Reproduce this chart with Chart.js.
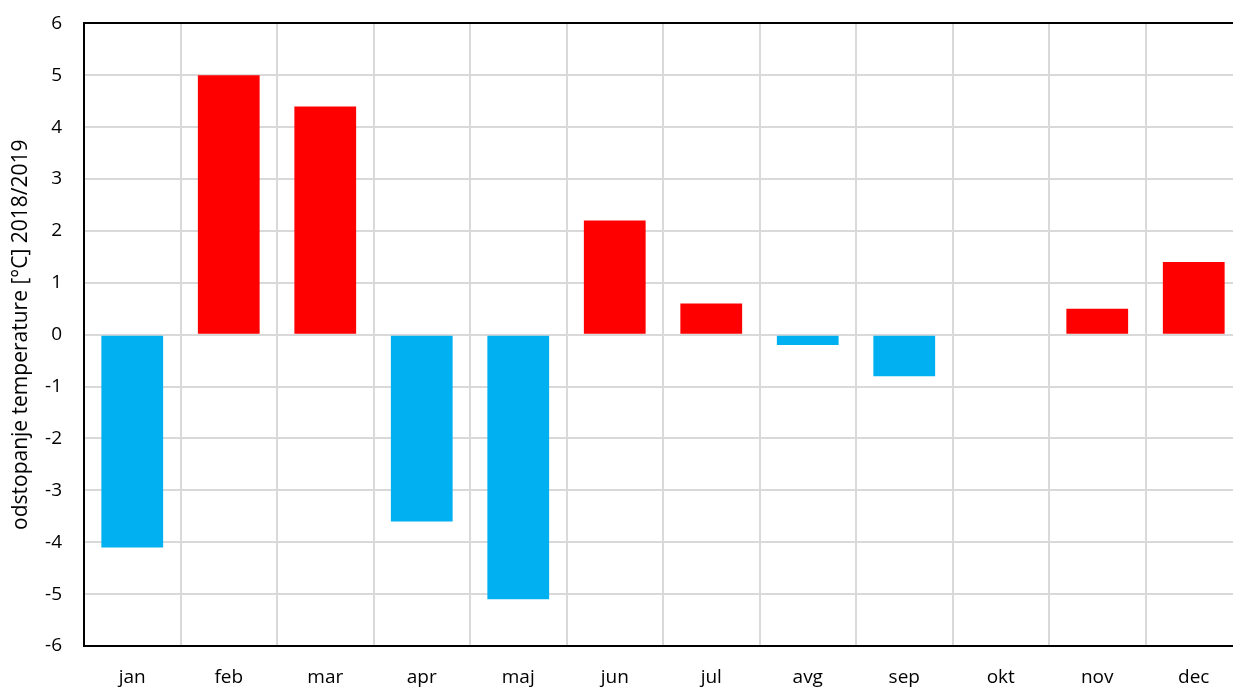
<!DOCTYPE html>
<html><head><meta charset="utf-8">
<script src="https://cdn.jsdelivr.net/npm/chart.js@4/dist/chart.umd.min.js"></script>
<style>html,body{margin:0;padding:0;overflow:hidden;background:#fff}#wrap{width:1242px;height:699px;position:relative;margin-top:-10px}</style>
</head><body><div id="wrap"><canvas id="c"></canvas></div>
<script>
const categories = ['jan','feb','mar','apr','maj','jun','jul','avg','sep','okt','nov','dec'];
const deviations = [-4.1, 5.0, 4.4, -3.6, -5.1, 2.2, 0.6, -0.2, -0.8, 0, 0.5, 1.4];
const yTicks = [-6,-5,-4,-3,-2,-1,0,1,2,3,4,5,6];
const yTitle = 'odstopanje temperature [°C] 2018/2019';
const RED = '#ff0000', BLUE = '#00b0f0';
const font = "'Open Sans', sans-serif";
new Chart(document.getElementById('c'), {
  type: 'bar',
  data: { labels: categories, datasets: [{
    data: deviations,
    backgroundColor: deviations.map(v => v >= 0 ? RED : BLUE),
    borderWidth: 0,
    barPercentage: 0.64, categoryPercentage: 1.0
  }]},
  options: {
    responsive: true, maintainAspectRatio: false, animation: false,
    layout: { padding: { top: 10, right: 0, bottom: 0, left: 8 } },
    plugins: { legend: { display: false }, tooltip: { enabled: false } },
    scales: {
      x: {
        grid: { color: '#d9d9d9', lineWidth: 2, offset: true, drawTicks: false },
        border: { color: '#000', width: 2 },
        ticks: { color: '#000', font: { family: font, size: 19 }, padding: 20 },
        afterFit: s => { s.height = 43; }
      },
      y: {
        min: -6, max: 6,
        afterBuildTicks: s => { s.ticks = yTicks.map(v => ({ value: v })); },
        grid: { color: c => c.tick && c.tick.value === 6 ? '#000' : '#d9d9d9', lineWidth: 2, drawTicks: false },
        border: { color: '#000', width: 2 },
        ticks: { color: '#000', font: { family: font, size: 19 }, padding: 22 },
        title: { display: true, text: yTitle, color: '#000', font: { family: font, size: 21 }, padding: 0 },
        afterFit: s => { s.width = 76; }
      }
    }
  }
});
</script></body></html>
